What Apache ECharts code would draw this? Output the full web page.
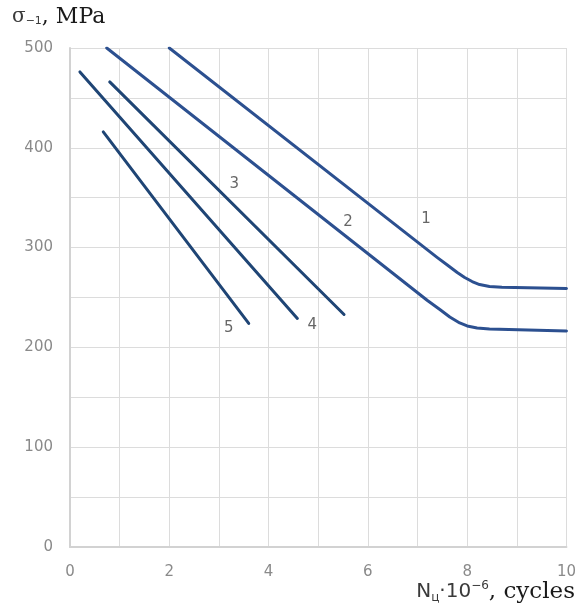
<!DOCTYPE html>
<html><head><meta charset="utf-8">
<script src="https://cdn.jsdelivr.net/npm/echarts@6/dist/echarts.min.js"></script>
<style>html,body{margin:0;padding:0;background:#fff}#c{width:579px;height:614px}</style>
</head><body><div id="c"></div>
<script>
// Curve data (N·10^-6, σ-1 MPa)
const curve1 = [[2.0,500],[7.4,290],[7.6,282.5],[7.8,275],[7.95,270],[8.1,266],[8.25,263],[8.45,261],[8.7,260.3],[10,259]];
const curve2 = [[0.74,500],[7.2,247],[7.45,238],[7.65,230.5],[7.85,224.5],[8.0,221.5],[8.2,219.5],[8.45,218.5],[10,216.5]];
const curve3 = [[0.8,466],[5.52,233]];
const curve4 = [[0.2,476],[4.58,229]];
const curve5 = [[0.67,416],[3.6,224]];
// Curve number labels
const curveLabels = [[7.17,329,'1'],[5.6,326,'2'],[3.31,364,'3'],[4.88,222,'4'],[3.2,219,'5']];
// Axes
const xTicks = [0,2,4,6,8,10];
const yTicks = [0,100,200,300,400,500];

const chart = echarts.init(document.getElementById('c'));
const mk = (data,c)=>({type:'line',data,showSymbol:false,symbol:'none',smooth:false,
  lineStyle:{color:c,width:3,join:'round',cap:'round'},itemStyle:{color:c},silent:true,z:3});
const grid = {color:'#dcdcdc',width:1};
chart.setOption({
  animation:false,
  grid:{left:70,right:11,top:48,bottom:67,show:false},
  xAxis:{type:'value',min:0,max:10,interval:1,
    axisLine:{show:true,lineStyle:{color:'#d2d2d2',width:2}},
    axisTick:{show:false},
    splitLine:{show:true,lineStyle:grid},
    axisLabel:{margin:18,color:'#8a8a8a',fontFamily:'DejaVu Sans',fontSize:15,
      formatter:v=>xTicks.includes(v)?String(v):''}},
  yAxis:{type:'value',min:0,max:500,interval:50,
    axisLine:{show:true,lineStyle:{color:'#d2d2d2',width:2}},
    axisTick:{show:false},
    splitLine:{show:true,lineStyle:grid},
    axisLabel:{margin:17,color:'#8a8a8a',fontFamily:'DejaVu Sans',fontSize:15,
      formatter:v=>yTicks.includes(v)?String(v):''}},
  series:[
    mk(curve1,'#2c5090'),
    mk(curve2,'#2c5090'),
    mk(curve3,'#1f4575'),
    mk(curve4,'#1f4575'),
    mk(curve5,'#1f4575'),
    {type:'scatter',data:curveLabels,symbolSize:0,silent:true,z:4,
     label:{show:true,position:'inside',formatter:p=>p.data[2],color:'#404040',fontFamily:'DejaVu Sans',fontSize:15}}
  ],
  graphic:[
    {type:'text',left:12,top:6,style:{
      text:'{s|σ}{sub|−1}{c|, MPa}',
      rich:{
        s:{fontFamily:'DejaVu Serif',fontSize:20,fill:'#3a3a3a'},
        sub:{fontFamily:'DejaVu Sans',fontSize:11,fill:'#3a3a3a',padding:[8,0,0,0]},
        c:{fontFamily:'DejaVu Serif',fontSize:22,fill:'#1a1a1a'}
      }}},
    {type:'text',right:4,top:580,style:{
      text:'{n|N}{ts|ц}{n|·10}{sup|−6}{c|, cycles}',
      rich:{
        n:{fontFamily:'DejaVu Sans',fontSize:20,fill:'#3a3a3a'},
        ts:{fontFamily:'DejaVu Sans',fontSize:12,fill:'#3a3a3a',padding:[12,0,0,0]},
        sup:{fontFamily:'DejaVu Sans',fontSize:12,fill:'#3a3a3a',padding:[0,0,12,0]},
        c:{fontFamily:'DejaVu Serif',fontSize:23,fill:'#1a1a1a'}
      }}}
  ]
});
</script></body></html>
